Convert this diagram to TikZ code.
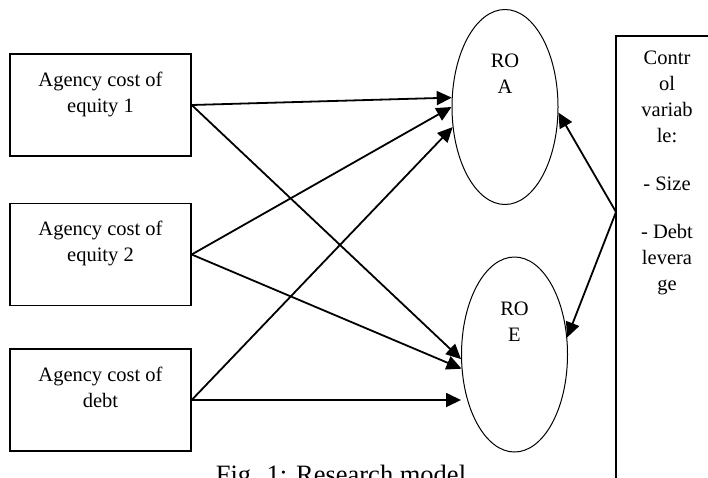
\documentclass[tikz,border=0pt]{standalone}
\usepackage{fontspec}
\setmainfont{Liberation Serif}
\usepackage{tikz}
\usetikzlibrary{shapes.geometric,arrows.meta}

\tikzset{
  costbox/.style={draw, line width=1.4pt, minimum width=181, minimum height=102, inner sep=0pt, align=center},
  oval/.style={draw, ellipse, line width=1pt, minimum width=106, minimum height=195, inner sep=0pt},
  plain/.style={inner sep=0pt, align=center},
  link/.style={line width=1.8pt, -{Triangle[length=15pt,width=14pt]}}
}

\begin{document}
\begin{tikzpicture}[x=1pt,y=1pt,yscale=-1,font=\fontsize{20.5}{26}\selectfont]
\useasboundingbox (0,0) rectangle (708,477);

%Shape: Rectangle
\node[costbox] (ace1) at (100.5,105) {Agency cost of\\equity 1\\\mbox{}};
\node[costbox] (ace2) at (100.5,254.5) {Agency cost of\\equity 2\\\mbox{}};
\node[costbox] (acd) at (100.5,400) {Agency cost of\\debt\\\mbox{}};

%Shape: Ellipse
\node[oval] (roa) at (505,107) {};
\node[oval] (roe) at (514.5,354.5) {};
% Text Node
\node[plain] (roatxt) at (505,74) {RO\\A};
\node[plain] (roetxt) at (514.5,322) {RO\\E};

%Shape: Rectangle (runs off the page)
\draw[line width=1.4pt] (616,36) rectangle (740,500);
\coordinate (ctrl) at (616,212);
% Text Node
\node[plain, anchor=north] (ctrltxt) at (667,51) {Contr\\ol\\variab\\le:\\[22pt]- Size\\[22pt]- Debt\\levera\\ge};

%Straight Lines
\draw[link] (ace1.east) -- (roa.170);
\draw[link] (ace1.east) -- (roe.185);
\draw[link] (ace2.east) -- (roa.180);
\draw[link] (ace2.east) -- (roe.195);
\draw[link] (acd.east) -- (roa.201);
\draw[link] (acd.east) -- (acd.east -| roe.west);
\draw[link] (ctrl) -- (roa.-6);
\draw[link] (ctrl) -- (roe.18);

% Text Node
\node[plain, anchor=base, font=\fontsize{26.5}{32}\selectfont] (caption) at (341,483) {Fig. 1: Research model};

\end{tikzpicture}
\end{document}
